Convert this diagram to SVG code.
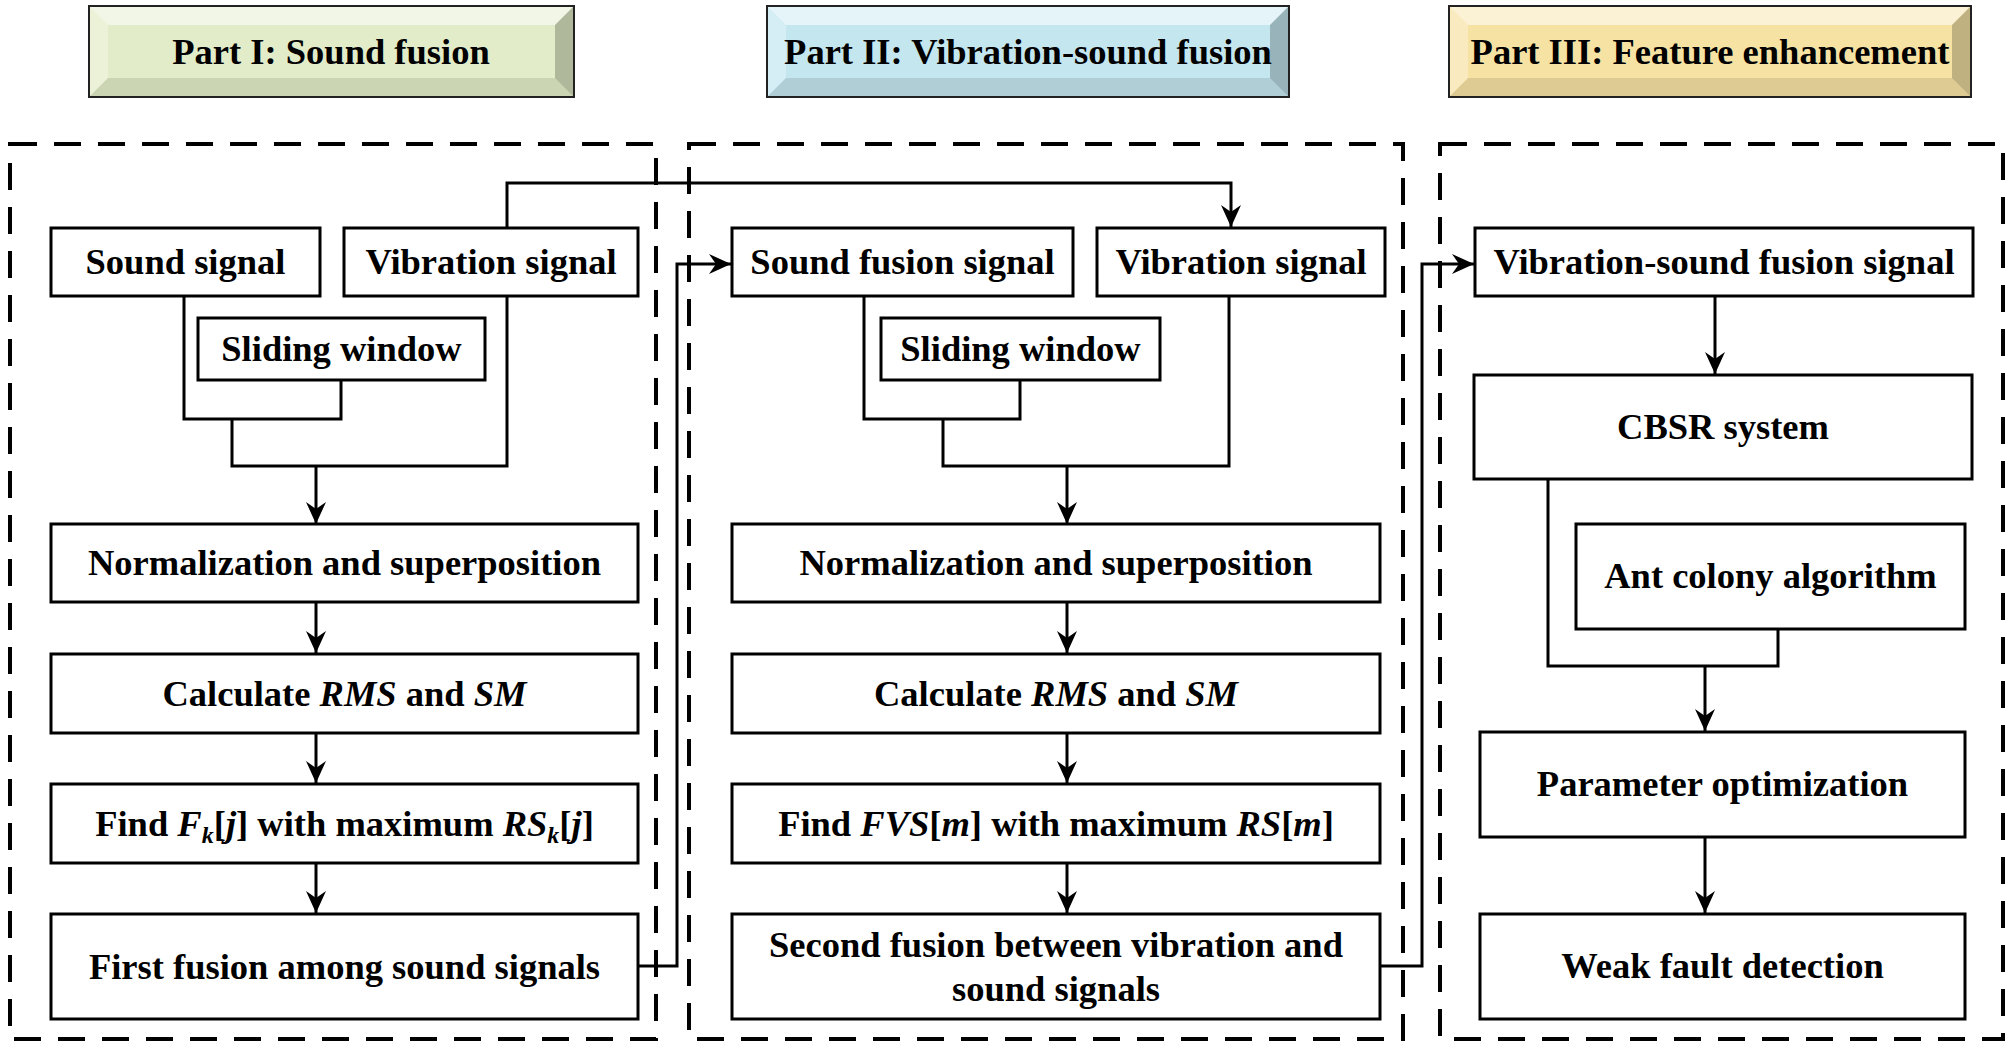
<svg xmlns="http://www.w3.org/2000/svg" width="2012" height="1048" viewBox="0 0 2012 1048">
<style>
.box{fill:#fff;stroke:#000;stroke-width:3}
.t{font-family:"Liberation Serif","Times New Roman",serif;font-weight:bold;font-size:36.5px;text-anchor:middle;fill:#000}
.i{font-style:italic}
.sub{font-size:24px}
.conn{fill:none;stroke:#000;stroke-width:3}
.arr{marker-end:url(#ah)}
.panel{fill:none;stroke:#000;stroke-width:4;stroke-dasharray:27 17}
.tb{stroke:#222;stroke-width:2}
.hl{fill:#fff;opacity:.55}
.hl2{fill:#fff;opacity:.3}
.sh{fill:#000;opacity:.1}
.sh2{fill:#000;opacity:.22}
</style>
<defs>
<marker id="ah" markerUnits="userSpaceOnUse" markerWidth="22" markerHeight="20" viewBox="0 0 22 20" refX="22" refY="10" orient="auto">
<path d="M22,10 L0,0 L7,10 L0,20 Z" fill="#000"/>
</marker>
</defs>
<rect width="2012" height="1048" fill="#fff"/>

<g id="panels">
<rect class="panel" x="10" y="144" width="646" height="895"/>
<rect class="panel" x="689" y="144" width="714" height="895"/>
<rect class="panel" x="1440" y="144" width="563" height="895"/>
</g>

<g id="title1">
<rect class="tb" x="89" y="6" width="485" height="91" fill="#e2ecc8"/>
<polygon class="hl" points="90,7 573,7 555,25 108,25"/>
<polygon class="hl2" points="90,7 108,25 108,78 90,96"/>
<polygon class="sh" points="90,96 108,78 555,78 573,96"/>
<polygon class="sh2" points="573,7 573,96 555,78 555,25"/>
<text class="t" x="331" y="64">Part I: Sound fusion</text>
</g>
<g id="title2">
<rect class="tb" x="767" y="6" width="522" height="91" fill="#c3e6ef"/>
<polygon class="hl" points="768,7 1288,7 1270,25 786,25"/>
<polygon class="hl2" points="768,7 786,25 786,78 768,96"/>
<polygon class="sh" points="768,96 786,78 1270,78 1288,96"/>
<polygon class="sh2" points="1288,7 1288,96 1270,78 1270,25"/>
<text class="t" x="1028" y="64">Part II: Vibration-sound fusion</text>
</g>
<g id="title3">
<rect class="tb" x="1449" y="6" width="522" height="91" fill="#f6e3a4"/>
<polygon class="hl" points="1450,7 1970,7 1952,25 1468,25"/>
<polygon class="hl2" points="1450,7 1468,25 1468,78 1450,96"/>
<polygon class="sh" points="1450,96 1468,78 1952,78 1970,96"/>
<polygon class="sh2" points="1970,7 1970,96 1952,78 1952,25"/>
<text class="t" x="1710" y="64">Part III: Feature enhancement</text>
</g>

<g id="connectors">
<polyline class="conn" points="184,296 184,419 341,419 341,380"/>
<polyline class="conn" points="232,419 232,466 507,466 507,296"/>
<line class="conn arr" x1="316" y1="466" x2="316" y2="524"/>
<polyline class="conn arr" points="507,228 507,183 1231,183 1231,227"/>
<line class="conn arr" x1="316" y1="602" x2="316" y2="653"/>
<line class="conn arr" x1="316" y1="733" x2="316" y2="783"/>
<line class="conn arr" x1="316" y1="863" x2="316" y2="913"/>
<polyline class="conn arr" points="638,966 677,966 677,264 731,264"/>

<polyline class="conn" points="864,296 864,419 1020,419 1020,380"/>
<polyline class="conn" points="943,419 943,466 1229,466 1229,296"/>
<line class="conn arr" x1="1067" y1="466" x2="1067" y2="524"/>
<line class="conn arr" x1="1067" y1="602" x2="1067" y2="653"/>
<line class="conn arr" x1="1067" y1="733" x2="1067" y2="783"/>
<line class="conn arr" x1="1067" y1="863" x2="1067" y2="913"/>
<polyline class="conn arr" points="1380,966 1422,966 1422,264 1474,264"/>

<line class="conn arr" x1="1715" y1="296" x2="1715" y2="374"/>
<polyline class="conn" points="1548,479 1548,666 1778,666 1778,629"/>
<line class="conn arr" x1="1705" y1="666" x2="1705" y2="731"/>
<line class="conn arr" x1="1705" y1="837" x2="1705" y2="913"/>
</g>

<g id="p1-sound">
<rect class="box" x="51" y="228" width="269" height="68"/>
<text class="t" x="185.5" y="274">Sound signal</text>
</g>
<g id="p1-vibration">
<rect class="box" x="344" y="228" width="294" height="68"/>
<text class="t" x="491" y="274">Vibration signal</text>
</g>
<g id="p1-sliding">
<rect class="box" x="198" y="318" width="287" height="62"/>
<text class="t" x="341.5" y="361">Sliding window</text>
</g>
<g id="p1-norm">
<rect class="box" x="51" y="524" width="587" height="78"/>
<text class="t" x="344.5" y="575">Normalization and superposition</text>
</g>
<g id="p1-calc">
<rect class="box" x="51" y="654" width="587" height="79"/>
<text class="t" x="344.5" y="706">Calculate <tspan class="i">RMS</tspan> and <tspan class="i">SM</tspan></text>
</g>
<g id="p1-find">
<rect class="box" x="51" y="784" width="587" height="79"/>
<text class="t" x="344.5" y="836">Find <tspan class="i">F</tspan><tspan class="i sub" dy="7">k</tspan><tspan dy="-7">[</tspan><tspan class="i">j</tspan>] with maximum <tspan class="i">RS</tspan><tspan class="i sub" dy="7">k</tspan><tspan dy="-7">[</tspan><tspan class="i">j</tspan>]</text>
</g>
<g id="p1-first">
<rect class="box" x="51" y="914" width="587" height="105"/>
<text class="t" x="344.5" y="979">First fusion among sound signals</text>
</g>

<g id="p2-soundfusion">
<rect class="box" x="732" y="228" width="341" height="68"/>
<text class="t" x="902.5" y="274">Sound fusion signal</text>
</g>
<g id="p2-vibration">
<rect class="box" x="1097" y="228" width="288" height="68"/>
<text class="t" x="1241" y="274">Vibration signal</text>
</g>
<g id="p2-sliding">
<rect class="box" x="881" y="318" width="279" height="62"/>
<text class="t" x="1020.5" y="361">Sliding window</text>
</g>
<g id="p2-norm">
<rect class="box" x="732" y="524" width="648" height="78"/>
<text class="t" x="1056" y="575">Normalization and superposition</text>
</g>
<g id="p2-calc">
<rect class="box" x="732" y="654" width="648" height="79"/>
<text class="t" x="1056" y="706">Calculate <tspan class="i">RMS</tspan> and <tspan class="i">SM</tspan></text>
</g>
<g id="p2-find">
<rect class="box" x="732" y="784" width="648" height="79"/>
<text class="t" x="1056" y="836">Find <tspan class="i">FVS</tspan>[<tspan class="i">m</tspan>] with maximum <tspan class="i">RS</tspan>[<tspan class="i">m</tspan>]</text>
</g>
<g id="p2-second">
<rect class="box" x="732" y="914" width="648" height="105"/>
<text class="t" x="1056" y="957">Second fusion between vibration and</text>
<text class="t" x="1056" y="1001">sound signals</text>
</g>

<g id="p3-vsfusion">
<rect class="box" x="1475" y="228" width="498" height="68"/>
<text class="t" x="1724" y="274">Vibration-sound fusion signal</text>
</g>
<g id="p3-cbsr">
<rect class="box" x="1474" y="375" width="498" height="104"/>
<text class="t" x="1723" y="439">CBSR system</text>
</g>
<g id="p3-ant">
<rect class="box" x="1576" y="524" width="389" height="105"/>
<text class="t" x="1770.5" y="588">Ant colony algorithm</text>
</g>
<g id="p3-param">
<rect class="box" x="1480" y="732" width="485" height="105"/>
<text class="t" x="1722.5" y="796">Parameter optimization</text>
</g>
<g id="p3-weak">
<rect class="box" x="1480" y="914" width="485" height="105"/>
<text class="t" x="1722.5" y="978">Weak fault detection</text>
</g>
</svg>
